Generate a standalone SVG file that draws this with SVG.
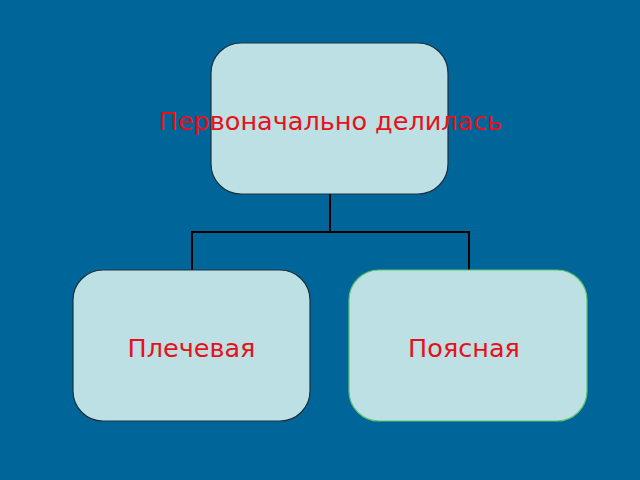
<svg xmlns="http://www.w3.org/2000/svg" width="640" height="480" viewBox="0 0 640 480">
<style>
.node{fill:#bce0e3;stroke:#1c3040;stroke-width:1.2}
.green{stroke:#5fc46f}
.lbl{font-family:"DejaVu Sans",sans-serif;font-size:25.5px;fill:#e8101a;text-anchor:middle}
.conn{fill:none;stroke:#000;stroke-width:2}
</style>
<rect width="640" height="480" fill="#006699"/>
<g id="connectors">
<path class="conn" d="M330,194 V232 M192,232 H469 M192,231 V270 M469,231 V270"/>
</g>
<g id="top">
<rect class="node" x="211" y="43" width="237" height="151" rx="30"/>
<text class="lbl" x="330.5" y="130">Первоначально делилась</text>
</g>
<g id="left">
<rect class="node" x="73" y="270" width="237" height="151" rx="30"/>
<text class="lbl" x="191.5" y="357">Плечевая</text>
</g>
<g id="right">
<rect class="node green" x="349" y="270" width="238" height="151" rx="30"/>
<text class="lbl" x="464" y="357">Поясная</text>
</g>
</svg>
